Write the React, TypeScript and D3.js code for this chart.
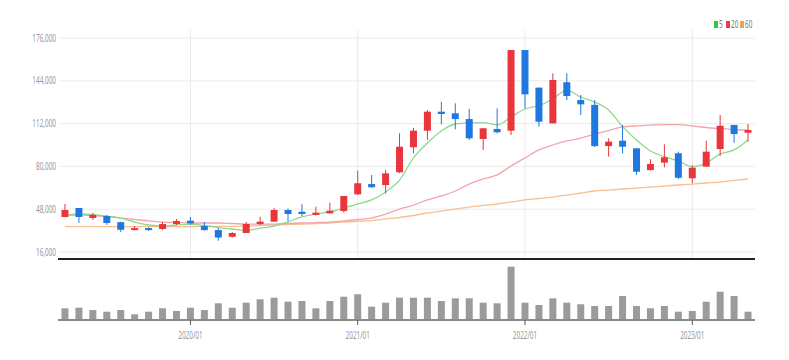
import React from 'react';
import * as d3 from 'd3';

const months = [
  '2019/04','2019/05','2019/06','2019/07','2019/08','2019/09','2019/10','2019/11','2019/12',
  '2020/01','2020/02','2020/03','2020/04','2020/05','2020/06','2020/07','2020/08','2020/09','2020/10','2020/11','2020/12',
  '2021/01','2021/02','2021/03','2021/04','2021/05','2021/06','2021/07','2021/08','2021/09','2021/10','2021/11','2021/12',
  '2022/01','2022/02','2022/03','2022/04','2022/05','2022/06','2022/07','2022/08','2022/09','2022/10','2022/11','2022/12',
  '2023/01','2023/02','2023/03','2023/04','2023/05'
];

const opens = [42200,48900,41400,42900,38300,32400,33900,33200,36900,39400,35400,32400,27400,30200,36900,38700,47400,46100,43700,44900,46600,
  59100,66800,66100,75600,94300,106700,120900,119700,115400,100500,108000,106700,
  167000,138900,112200,142900,129600,126000,95200,99200,93500,77300,82800,89800,
  71100,79800,93000,111000,105200];
const highs = [51900,49000,45200,43700,38600,35400,34500,38400,40700,42200,38400,33900,30900,38400,42400,48700,48400,51700,49900,52900,57900,
  76800,73600,77300,104700,108900,122200,128400,127200,122900,108500,123400,167000,
  167000,138900,149600,149600,133400,129600,101000,111000,93500,85300,96500,91000,
  81000,99200,118400,111000,111700];
const lows = [42000,37700,40000,36200,31000,32000,31700,32400,36200,36200,32000,24400,26800,30200,36200,38400,39200,42900,43300,44600,45400,
  58800,64000,59900,75000,89800,99700,111500,107700,99700,92300,104700,103500,
  123400,109700,112200,129600,118400,94500,87300,89800,73600,76800,79300,70500,
  67400,79800,87800,97700,98500];
const closes = [47400,42200,43700,37700,32600,33900,32400,36900,39200,37400,32400,26800,30200,36900,38700,47400,44400,44400,45400,46900,57900,
  67400,64400,74800,94700,106700,120900,119200,115400,101000,108500,105500,167000,
  133900,113400,144600,132600,126400,95200,98500,94700,76000,81800,86800,71500,
  79000,91000,110400,104200,107200];
const volumes = [1170,1230,1000,830,1000,570,830,1170,900,1230,1000,1670,1230,1730,2070,2230,1830,1900,1170,1900,2330,
  2570,1330,1730,2230,2230,2230,1900,2170,2170,1730,1670,5330,
  1730,1500,2170,1730,1570,1400,1400,2400,1400,1170,1400,830,
  900,1830,2830,2400,830];
const ma5 = [42900,44400,44000,42900,41400,38400,36200,35400,36200,36900,35800,34300,33200,32100,33900,35400,38600,42200,44400,46100,48900,
  51900,54900,60900,69800,86300,97500,106500,111700,112400,112800,111000,116900,
  122900,125400,130400,137100,131900,128100,122200,109700,99700,91500,87300,84000,
  79800,82500,89300,92300,99700];
const ma20 = [42900,43700,43300,42500,41400,40300,39200,38400,38000,37700,37700,37700,37300,36900,36900,36900,37300,37700,38000,38400,39200,
  40300,41400,44400,48100,51100,54900,57900,61600,66800,70600,73600,80300,
  86300,92300,96000,99000,101200,104200,106800,109500,110200,110900,111300,111300,
  110200,109100,108300,107600,107200];
const ma60 = [35000,35000,35000,35000,35000,35000,35000,35000,35000,35000,35100,35100,35200,35300,35800,36200,36600,36900,37300,37700,38400,
  39000,39500,40700,41800,43300,45200,46600,48100,49600,50800,51900,53400,
  54900,56000,57100,58600,60100,61600,62300,63100,63800,64600,65300,66100,
  66800,67600,68300,69500,70600];

const yTicks = [16000,48000,80000,112000,144000,176000];
const xTickLabels = ['2020/01','2021/01','2022/01','2023/01'];
const legendItems = ['5','20','60'];

const UP = '#e8363c';
const DOWN = '#1f78e0';
const maColors = ['#8ed88e','#f2a4aa','#f8bf90'];
const legendColors = ['#2ec940','#f23b4a','#f5a043'];
const SX = 0.64;

export default function App() {
  const W = 789, H = 360;
  const left = 58, right = 755;
  const x = d3.scaleBand().domain(months).range([left, right]).padding(0);
  const cx = (m) => (x(m) as number) + x.bandwidth() / 2;
  const y = d3.scaleLinear().domain([16000, 176000]).range([252, 38]);
  const yv = d3.scaleLinear().domain([0, 6000]).range([320, 260]);
  const bodyW = 7;
  const maSeries = [ma5, ma20, ma60];
  const line = d3.line<number>().x((d, i) => cx(months[i])).y((d) => y(d)).curve(d3.curveMonotoneX);
  const font = "'Noto Sans', sans-serif";

  return (
    <svg width={W} height={H} style={{ position: 'absolute', left: 0, top: 0, background: '#fff' }}>
      {/* horizontal grid */}
      {yTicks.map((t) => (
        <g key={t}>
          <line x1={60} x2={right} y1={y(t)} y2={y(t)} stroke="#ebebeb" strokeWidth={1} />
          <text transform={`translate(56,${y(t) + 3.5}) scale(${SX},1)`} textAnchor="end" fontSize={10} fill="#999" fontFamily={font}>
            {d3.format(',')(t)}
          </text>
        </g>
      ))}
      {/* vertical grid */}
      {xTickLabels.map((m) => (
        <line key={m} x1={cx(m)} x2={cx(m)} y1={30} y2={259} stroke="#ebebeb" strokeWidth={1} />
      ))}
      {/* moving averages (drawn below candles) */}
      {maSeries.slice().reverse().map((s, k) => (
        <path key={k} d={line(s) || ''} fill="none" stroke={maColors[2 - k]} strokeWidth={1.3} />
      ))}
      {/* candles */}
      {months.map((m, i) => {
        const up = closes[i] >= opens[i];
        const c = up ? UP : DOWN;
        const top = y(Math.max(opens[i], closes[i]));
        const bot = y(Math.min(opens[i], closes[i]));
        return (
          <g key={m}>
            <line x1={cx(m)} x2={cx(m)} y1={y(highs[i])} y2={y(lows[i])} stroke={c} strokeWidth={1} />
            <rect x={cx(m) - bodyW / 2} y={top} width={bodyW} height={Math.max(1.5, bot - top)} fill={c} />
          </g>
        );
      })}
      {/* separator */}
      <line x1={left} x2={right} y1={259} y2={259} stroke="#222" strokeWidth={2} />
      {/* volume */}
      {months.map((m, i) => (
        <rect key={m} x={cx(m) - 3.5} y={yv(volumes[i])} width={7} height={320 - yv(volumes[i])} fill="#9b9b9b" />
      ))}
      <line x1={left} x2={right} y1={320} y2={320} stroke="#8a8a8a" strokeWidth={2} />
      {xTickLabels.map((m) => (
        <g key={m}>
          <line x1={cx(m)} x2={cx(m)} y1={320} y2={325} stroke="#555" strokeWidth={1} />
          <text transform={`translate(${cx(m)},${339}) scale(${SX},1)`} textAnchor="middle" fontSize={10} fill="#999" fontFamily={font}>
            {m}
          </text>
        </g>
      ))}
      {/* legend */}
      {legendItems.map((l, k) => {
        const lx = [714, 726, 740][k];
        return (
          <g key={l}>
            <rect x={lx} y={21} width={4} height={7} fill={legendColors[k]} />
            <text transform={`translate(${lx + 5},${28}) scale(${SX},1)`} fontSize={10} fill="#777" fontFamily={font}>
              {l}
            </text>
          </g>
        );
      })}
    </svg>
  );
}
